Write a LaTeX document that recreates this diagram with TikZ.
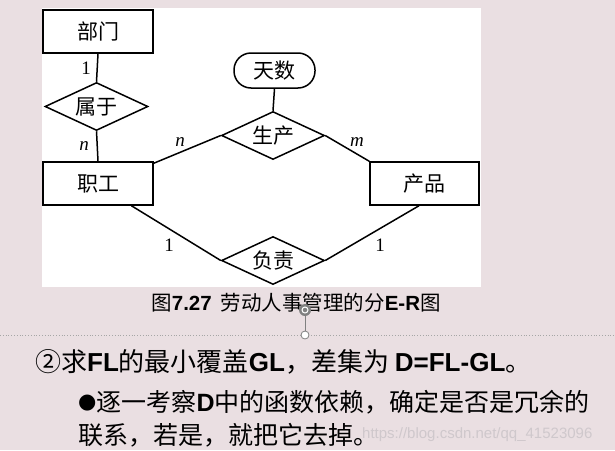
\documentclass[tikz,border=0pt]{standalone}
\usepackage{fontspec}
\setmainfont{Liberation Sans}
\newfontfamily\cjk{Noto Sans CJK SC}
\newfontfamily\tms{Liberation Serif}
\newfontfamily\dvs{DejaVu Sans}
\usetikzlibrary{shapes.geometric,calc}
\definecolor{bgpink}{HTML}{EADFE2}
\definecolor{wm}{HTML}{CFC8CC}
\tikzset{
  ent/.style={draw, line width=1.5pt, fill=white, minimum width=110pt, minimum height=43pt, inner sep=0pt, font=\cjk\fontsize{21}{24}\selectfont},
  rel/.style={draw, diamond, aspect=2.1, line width=1.5pt, fill=white, minimum width=103pt, minimum height=48pt, inner sep=0pt, font=\cjk\fontsize{21}{24}\selectfont},
  attr/.style={draw, rounded corners=17pt, line width=1.5pt, fill=white, minimum width=81pt, minimum height=35pt, inner sep=0pt, font=\cjk\fontsize{21}{24}\selectfont},
  conn/.style={line width=1.5pt},
  card/.style={font=\tms\fontsize{19}{21}\selectfont, inner sep=0pt},
  body/.style={anchor=west, inner sep=0pt, font=\cjk\fontsize{25}{30}\selectfont},
}
\begin{document}
\begin{tikzpicture}[x=1pt,y=-1pt]
\useasboundingbox (0,0) rectangle (615,450);
\fill[bgpink] (0,0) rectangle (615,450);
\fill[white] (42,8) rectangle (481,287);
% nodes
\node[ent] (bumen) at (98,31.5) {部门};
\node[rel] (shuyu) at (96.5,106.5) {属于};
\node[ent] (zhigong) at (98,183.5) {职工};
\node[attr] (tianshu) at (274.5,70.5) {天数};
\node[rel] (shengchan) at (273,135.5) {生产};
\node[ent, minimum width=109pt] (chanpin) at (424.5,183.5) {产品};
\node[rel] (fuze) at (273,260.5) {负责};
% connectors
\draw[conn] (bumen.south) -- (shuyu.north);
\draw[conn] (shuyu.south) -- (zhigong.north);
\draw[conn] (tianshu.south) -- (shengchan.north);
\draw[conn] ($(zhigong.north east)+(0,2)$) -- (shengchan.west);
\draw[conn] (shengchan.east) -- (chanpin.north west);
\draw[conn] ($(zhigong.south west)!0.8!(zhigong.south east)$) -- (fuze.west);
\draw[conn] ($(chanpin.south west)!0.45!(chanpin.south east)$) -- (fuze.east);
% cardinalities
\node[card] (c1) at (86,68) {1};
\node[card] (c2) at (84,146) {\itshape n};
\node[card] (c3) at (180,142) {\itshape n};
\node[card] (c4) at (357,142) {\itshape m};
\node[card] (c5) at (169,245) {1};
\node[card] (c6) at (380,245) {1};
% caption
\node[inner sep=0pt, font=\fontsize{20.5}{23}\selectfont] (cap) at (296,303) {{\cjk 图}\textbf{7.27}\hspace{9pt}{\cjk 劳动人事管理的分}\textbf{E-R}{\cjk 图}};
% selection handle and dotted line
\draw[gray!70, dotted, line width=0.8pt] (0,335) -- (615,335);
\draw[gray, line width=1pt] (305,313) -- (305,331);
\fill[gray] (305,310) circle (6pt);
\draw[white, line width=1pt] (305,310) circle (3pt);
\node[circle, draw=gray, fill=white, line width=0.8pt, inner sep=0pt, minimum size=8pt] (handle) at (305,335) {};
% body text
\node[body, font=\cjk\fontsize{26}{30}\selectfont] (l1) at (35,362) {②求\textbf{\fontspec{Liberation Sans}FL}的最小覆盖\textbf{\fontspec{Liberation Sans}GL}，差集为 \textbf{\fontspec{Liberation Sans}D=FL-GL}。};
\node[body] (l2) at (78,402) {\raisebox{2.5pt}{\dvs\fontsize{21}{22}\selectfont ●}逐一考察\textbf{\fontspec{Liberation Sans}D}中的函数依赖，确定是否是冗余的};
\node[body] (l3) at (78,435) {联系，若是，就把它去掉。};
\node[anchor=west, inner sep=0pt, text=wm, font=\fontsize{15}{18}\selectfont] (wmk) at (362,435) {https://blog.csdn.net/qq\_41523096};
\end{tikzpicture}
\end{document}
